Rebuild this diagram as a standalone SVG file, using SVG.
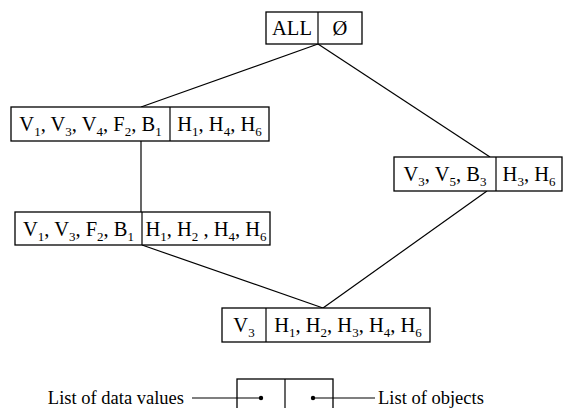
<svg xmlns="http://www.w3.org/2000/svg" width="571" height="408" viewBox="0 0 571 408">
<style>
.box{fill:#fff;stroke:#000;stroke-width:1.3}
.ln{stroke:#000;stroke-width:1.2;fill:none}
text{font-family:"Liberation Serif","Times New Roman",serif;font-size:20.5px;fill:#000}
.c{text-anchor:middle}
.s{font-size:13px}
.lg{font-size:18.5px}
</style>
<rect width="571" height="408" fill="#fff"/>
<g id="connectors">
<line class="ln" x1="318" y1="44" x2="141" y2="107"/>
<line class="ln" x1="318" y1="44" x2="490" y2="157"/>
<line class="ln" x1="141" y1="141" x2="141" y2="212"/>
<line class="ln" x1="142" y1="245" x2="323" y2="308"/>
<line class="ln" x1="487" y1="191" x2="323" y2="308"/>
</g>
<g id="node-all">
<rect class="box" x="266" y="12" width="96" height="32"/>
<line class="ln" x1="318" y1="12" x2="318" y2="44"/>
<text class="c" x="292" y="35">ALL</text>
<text class="c" x="340" y="35">Ø</text>
</g>
<g id="node-2">
<rect class="box" x="11" y="107" width="258" height="34"/>
<line class="ln" x1="170" y1="107" x2="170" y2="141"/>
<text class="c" x="90.5" y="131">V<tspan class="s" dy="5">1</tspan><tspan dy="-5">, V</tspan><tspan class="s" dy="5">3</tspan><tspan dy="-5">, V</tspan><tspan class="s" dy="5">4</tspan><tspan dy="-5">, F</tspan><tspan class="s" dy="5">2</tspan><tspan dy="-5">, B</tspan><tspan class="s" dy="5">1</tspan></text>
<text class="c" x="219.5" y="131">H<tspan class="s" dy="5">1</tspan><tspan dy="-5">, H</tspan><tspan class="s" dy="5">4</tspan><tspan dy="-5">, H</tspan><tspan class="s" dy="5">6</tspan></text>
</g>
<g id="node-3">
<rect class="box" x="394" y="157" width="168" height="34"/>
<line class="ln" x1="496" y1="157" x2="496" y2="191"/>
<text class="c" x="445" y="181">V<tspan class="s" dy="5">3</tspan><tspan dy="-5">, V</tspan><tspan class="s" dy="5">5</tspan><tspan dy="-5">, B</tspan><tspan class="s" dy="5">3</tspan></text>
<text class="c" x="529" y="181">H<tspan class="s" dy="5">3</tspan><tspan dy="-5">, H</tspan><tspan class="s" dy="5">6</tspan></text>
</g>
<g id="node-4">
<rect class="box" x="15" y="212" width="255" height="33"/>
<line class="ln" x1="142" y1="212" x2="142" y2="245"/>
<text class="c" x="78.5" y="236">V<tspan class="s" dy="5">1</tspan><tspan dy="-5">, V</tspan><tspan class="s" dy="5">3</tspan><tspan dy="-5">, F</tspan><tspan class="s" dy="5">2</tspan><tspan dy="-5">, B</tspan><tspan class="s" dy="5">1</tspan></text>
<text class="c" x="206" y="236">H<tspan class="s" dy="5">1</tspan><tspan dy="-5">, H</tspan><tspan class="s" dy="5">2</tspan><tspan dy="-5"> , H</tspan><tspan class="s" dy="5">4</tspan><tspan dy="-5">, H</tspan><tspan class="s" dy="5">6</tspan></text>
</g>
<g id="node-5">
<rect class="box" x="222" y="308" width="208" height="34"/>
<line class="ln" x1="266" y1="308" x2="266" y2="342"/>
<text class="c" x="244" y="332">V<tspan class="s" dy="5">3</tspan></text>
<text class="c" x="348" y="332">H<tspan class="s" dy="5">1</tspan><tspan dy="-5">, H</tspan><tspan class="s" dy="5">2</tspan><tspan dy="-5">, H</tspan><tspan class="s" dy="5">3</tspan><tspan dy="-5">, H</tspan><tspan class="s" dy="5">4</tspan><tspan dy="-5">, H</tspan><tspan class="s" dy="5">6</tspan></text>
</g>
<g id="legend">
<rect class="box" x="237" y="379" width="96" height="40"/>
<line class="ln" x1="285" y1="379" x2="285" y2="408"/>
<line class="ln" x1="192" y1="398" x2="261" y2="398"/>
<line class="ln" x1="313" y1="398" x2="375" y2="398"/>
<circle cx="261" cy="398" r="2.2" fill="#000"/>
<circle cx="313" cy="398" r="2.2" fill="#000"/>
<text class="lg" x="184" y="404" text-anchor="end">List of data values</text>
<text class="lg" x="378" y="404">List of objects</text>
</g>
</svg>
